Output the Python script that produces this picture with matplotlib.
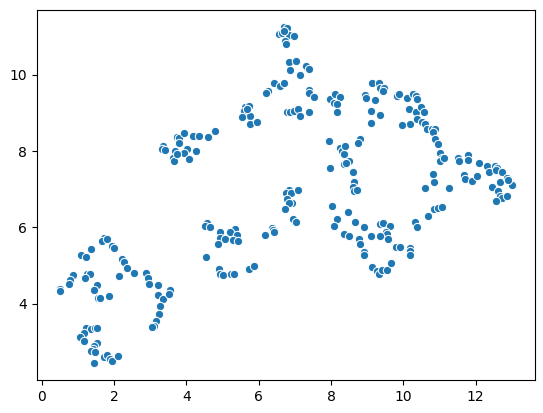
import matplotlib
matplotlib.use("Agg")
import matplotlib.pyplot as plt

pts = [
    # left upper cluster
    (1.71,5.73),(1.66,5.65),(1.80,5.70),(1.94,5.52),(2.0,5.47),(1.37,5.43),(1.09,5.28),(1.23,5.24),
    (2.22,5.17),(2.28,5.11),(2.36,4.95),(2.56,4.82),(2.14,4.73),(2.88,4.82),(2.93,4.69),(2.96,4.53),
    (3.21,4.50),(3.21,4.24),(3.35,4.12),(3.26,3.95),(3.23,3.73),(3.17,3.55),(3.10,3.42),(3.05,3.40),
    (3.54,4.36),(3.53,4.25),(0.86,4.76),(0.78,4.62),(0.74,4.52),(0.51,4.38),(0.49,4.34),
    (1.25,4.79),(1.32,4.79),(1.20,4.69),(1.52,4.50),(1.45,4.36),(1.55,4.15),(1.62,4.16),(1.87,4.20),
    # lower left cluster
    (1.23,3.38),(1.36,3.34),(1.48,3.36),(1.52,3.36),(1.16,3.25),(1.06,3.14),(1.16,3.03),(1.52,2.99),
    (1.43,2.90),(1.41,2.81),(1.36,2.77),(1.48,2.75),(1.45,2.45),(1.71,2.61),(1.80,2.66),(1.89,2.55),
    (1.94,2.51),(2.11,2.64),
    # cluster near (4, 8)
    (3.36,8.14),(3.32,8.05),(3.41,8.03),(3.69,8.01),(3.73,8.37),(3.80,8.35),(3.78,8.22),(3.92,8.48),
    (4.19,8.40),(4.36,8.40),(4.61,8.37),(4.80,8.53),(4.01,8.05),(3.94,7.96),(3.64,7.83),(3.66,7.74),
    (4.06,7.79),(4.27,7.99),(3.73,7.92),
    # cluster near (5.7, 9)
    (5.63,9.16),(5.72,9.18),(5.58,9.05),(5.77,8.92),(5.53,8.89),(5.77,8.72),(5.95,8.75),(5.67,9.10),
    # middle cluster near (5, 5.8)
    (4.56,6.13),(4.52,6.04),(4.66,6.00),(4.93,5.89),(5.35,5.96),(5.21,5.87),(5.40,5.81),(4.93,5.72),
    (5.07,5.69),(5.30,5.67),(5.44,5.65),(4.86,5.56),(4.55,5.23),(6.18,5.81),(6.41,5.93),(6.37,5.98),
    (4.89,4.91),(4.93,4.78),(5.01,4.76),(5.23,4.78),(5.32,4.78),(5.72,4.91),(5.88,4.99),
    # top
    (6.69,11.25),(6.78,11.22),(6.55,11.06),(6.64,11.10),(6.83,11.04),(6.97,11.02),(6.73,10.88),
    (6.76,10.81),(6.71,11.15),
    (6.83,10.32),(7.04,10.36),(6.87,10.12),(7.13,9.99),(7.32,10.23),(7.38,10.14),(6.25,9.58),
    (6.21,9.53),(6.43,9.77),(6.60,9.71),(6.71,9.77),(7.38,9.59),(7.38,9.51),(7.52,9.42),(6.78,9.03),
    (6.87,9.03),(6.97,9.05),(7.08,9.11),(7.13,8.92),(7.38,9.03),
    # cluster near (6.8, 6.7)
    (6.83,6.98),(6.76,6.89),(6.89,6.91),(7.08,6.98),(6.78,6.74),(6.92,6.63),(6.85,6.65),(6.73,6.48),
    (6.94,6.22),(7.03,6.15),(6.39,5.93),(6.43,5.89),(6.18,5.80),
    # cluster near (8.1, 9.3)
    (7.98,9.36),(8.12,9.49),(8.24,9.42),(8.07,9.27),(8.18,9.23),(8.17,9.01),
    # cluster near (9.3, 9.4)
    (9.14,9.77),(9.32,9.77),(9.37,9.66),(9.46,9.65),(9.44,9.56),(9.23,9.33),(9.12,9.05),(9.35,8.95),
    (9.12,8.73),(8.95,9.46),(8.98,9.40),
    # chain near (8.3, 7.5)
    (7.94,8.25),(8.24,8.08),(8.31,8.01),(8.35,7.92),(8.40,8.14),(8.49,7.74),(8.37,7.66),(8.42,7.69),
    (7.98,7.55),(8.61,7.45),(8.64,7.20),(8.62,7.06),(8.64,6.95),(8.72,6.99),(8.79,8.31),(8.74,8.22),
    # lower ring
    (8.03,6.57),(8.16,6.22),(8.09,6.04),(8.46,6.41),(8.66,6.15),(8.91,6.02),(8.37,5.84),(8.49,5.77),
    (8.77,5.69),(8.80,5.56),(8.91,5.37),(8.91,5.28),(9.14,4.97),(9.28,4.85),(9.32,4.78),(9.41,4.88),
    (9.55,4.88),(9.65,5.08),(9.12,5.78),(9.37,6.09),(9.44,6.13),(9.63,6.04),(9.51,5.87),(9.55,5.82),
    (9.37,5.78),(9.58,5.69),(9.81,5.49),(9.92,5.49),(10.18,5.47),(10.20,5.39),(10.18,5.28),
    (10.32,6.15),(10.39,6.02),(10.68,6.30),(10.85,6.48),(10.96,6.51),(11.08,6.54),(10.60,7.04),
    (10.85,7.19),(11.26,7.04),(10.83,7.41),
    # upper right arc
    (9.83,9.45),(9.88,9.49),(10.11,9.40),(10.27,9.49),(10.34,9.45),(10.38,9.36),(10.15,9.10),
    (10.18,8.72),(9.97,8.68),(10.34,9.01),(10.48,9.14),(10.57,9.01),(10.38,8.84),(10.52,8.75),
    (10.61,8.70),(10.66,8.57),(10.80,8.57),(10.89,8.57),(10.83,8.51),(10.89,8.31),(10.96,8.18),
    (11.01,7.94),(11.08,7.82),(11.03,7.74),(11.12,7.81),
    # right tail
    (11.51,7.81),(11.54,7.74),(11.79,7.90),(11.79,7.76),(12.09,7.70),(12.33,7.61),(12.37,7.46),
    (12.53,7.61),(12.60,7.55),(12.56,7.50),(12.72,7.44),(12.69,7.18),(12.86,7.29),(13.02,7.12),
    (12.90,7.24),(12.46,7.06),(12.62,6.96),(12.69,6.83),(12.74,6.77),(12.86,6.83),(12.57,6.68),
    (11.68,7.38),(11.72,7.26),(11.91,7.22),(12.03,7.35),
]

x_vals = [p[0] for p in pts]
y_vals = [p[1] for p in pts]

fig = plt.figure(figsize=(5.43, 4.13), dpi=100)
ax = fig.add_axes([37/543, 1-380/413, (535-37)/543, (380-10)/413])
ax.scatter(x_vals, y_vals, s=36, c="#1f77b4", edgecolors="white", linewidths=0.75)
fig.savefig("out.png", dpi=100)
